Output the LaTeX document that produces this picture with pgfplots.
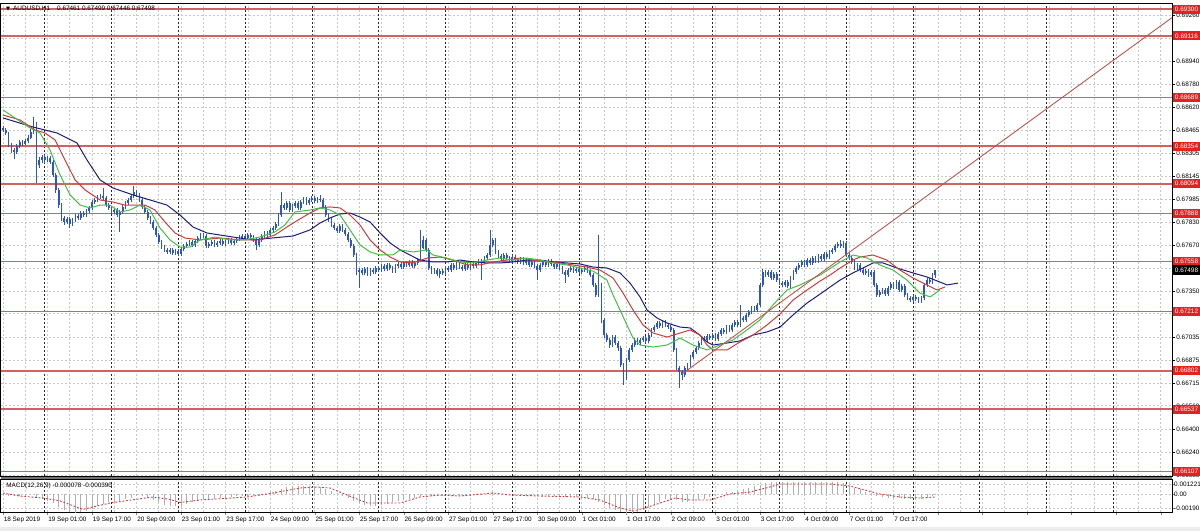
\documentclass[border=0pt]{standalone}
\usepackage{pgfplots}
\pgfplotsset{compat=1.18}
\usepackage{pgfplotstable}
\usepackage{fontspec}
\setmainfont{Liberation Sans}
\newfontfamily\dejavu{DejaVu Sans}
\definecolor{candle}{RGB}{45,85,200}
\definecolor{lvlred}{RGB}{208,98,98}
\definecolor{lblred}{RGB}{228,32,32}
\definecolor{magreen}{RGB}{70,190,70}
\definecolor{mared}{RGB}{205,60,60}
\definecolor{manavy}{RGB}{30,30,120}
\definecolor{trendred}{RGB}{185,85,75}
\definecolor{gridgray}{RGB}{200,200,200}
\definecolor{histgray}{RGB}{175,175,175}
\newcommand{\tf}{\fontsize{3.2}{3.8}\selectfont}

\pgfplotstableread{
i o h l c
0 0.68480 0.68495 0.68452 0.68466
1 0.68466 0.68478 0.68430 0.68445
2 0.68445 0.68455 0.68345 0.68362
3 0.68362 0.68375 0.68310 0.68327
4 0.68327 0.68340 0.68265 0.68313
5 0.68313 0.68368 0.68300 0.68355
6 0.68355 0.68398 0.68342 0.68383
7 0.68383 0.68395 0.68355 0.68369
8 0.68369 0.68405 0.68360 0.68390
9 0.68390 0.68428 0.68378 0.68410
10 0.68410 0.68470 0.68400 0.68452
11 0.68452 0.68556 0.68440 0.68507
12 0.68507 0.68520 0.68099 0.68224
13 0.68224 0.68280 0.68205 0.68258
14 0.68258 0.68295 0.68240 0.68279
15 0.68279 0.68292 0.68240 0.68258
16 0.68258 0.68288 0.68245 0.68272
17 0.68272 0.68285 0.68228 0.68244
18 0.68244 0.68255 0.68140 0.68155
19 0.68155 0.68168 0.68030 0.68051
20 0.68051 0.68062 0.67930 0.67947
21 0.67947 0.67960 0.67840 0.67858
22 0.67858 0.67872 0.67810 0.67830
23 0.67830 0.67865 0.67815 0.67851
24 0.67851 0.67862 0.67789 0.67816
25 0.67816 0.67858 0.67802 0.67844
26 0.67844 0.67885 0.67830 0.67871
27 0.67871 0.67884 0.67842 0.67858
28 0.67858 0.67906 0.67845 0.67892
29 0.67892 0.67905 0.67862 0.67878
30 0.67878 0.67920 0.67865 0.67906
31 0.67906 0.67940 0.67892 0.67927
32 0.67927 0.67982 0.67915 0.67968
33 0.67968 0.67996 0.67955 0.67982
34 0.67982 0.68018 0.67970 0.68003
35 0.68003 0.68025 0.67990 0.68010
36 0.68010 0.68065 0.67982 0.67996
37 0.67996 0.68008 0.67932 0.67947
38 0.67947 0.67960 0.67912 0.67927
39 0.67927 0.67940 0.67885 0.67899
40 0.67899 0.67928 0.67886 0.67913
41 0.67913 0.67925 0.67862 0.67878
42 0.67878 0.67912 0.67761 0.67899
43 0.67899 0.67948 0.67885 0.67934
44 0.67934 0.67975 0.67920 0.67961
45 0.67961 0.67996 0.67948 0.67982
46 0.67982 0.68025 0.67970 0.68010
47 0.68010 0.68079 0.67998 0.68037
48 0.68037 0.68050 0.68002 0.68017
49 0.68017 0.68030 0.67968 0.67982
50 0.67982 0.67995 0.67920 0.67934
51 0.67934 0.67946 0.67884 0.67899
52 0.67899 0.67910 0.67842 0.67858
53 0.67858 0.67870 0.67815 0.67830
54 0.67830 0.67842 0.67775 0.67789
55 0.67789 0.67800 0.67725 0.67740
56 0.67740 0.67752 0.67678 0.67692
57 0.67692 0.67705 0.67642 0.67658
58 0.67658 0.67670 0.67622 0.67637
59 0.67637 0.67650 0.67606 0.67623
60 0.67623 0.67652 0.67610 0.67637
61 0.67637 0.67648 0.67600 0.67616
62 0.67616 0.67645 0.67602 0.67630
63 0.67630 0.67642 0.67595 0.67609
64 0.67609 0.67658 0.67596 0.67644
65 0.67644 0.67680 0.67632 0.67665
66 0.67665 0.67692 0.67652 0.67678
67 0.67678 0.67706 0.67665 0.67692
68 0.67692 0.67705 0.67658 0.67671
69 0.67671 0.67712 0.67660 0.67699
70 0.67699 0.67735 0.67686 0.67720
71 0.67720 0.67755 0.67708 0.67740
72 0.67740 0.67752 0.67720 0.67734
73 0.67734 0.67745 0.67650 0.67665
74 0.67665 0.67692 0.67652 0.67678
75 0.67678 0.67706 0.67665 0.67692
76 0.67692 0.67704 0.67658 0.67671
77 0.67671 0.67698 0.67660 0.67685
78 0.67685 0.67712 0.67672 0.67699
79 0.67699 0.67710 0.67665 0.67678
80 0.67678 0.67705 0.67666 0.67692
81 0.67692 0.67720 0.67680 0.67706
82 0.67706 0.67718 0.67672 0.67685
83 0.67685 0.67712 0.67672 0.67699
84 0.67699 0.67727 0.67686 0.67713
85 0.67713 0.67740 0.67700 0.67727
86 0.67727 0.67748 0.67714 0.67734
87 0.67734 0.67746 0.67706 0.67720
88 0.67720 0.67755 0.67708 0.67740
89 0.67740 0.67752 0.67714 0.67727
90 0.67727 0.67738 0.67692 0.67706
91 0.67706 0.67718 0.67637 0.67671
92 0.67671 0.67720 0.67658 0.67706
93 0.67706 0.67748 0.67694 0.67734
94 0.67734 0.67768 0.67720 0.67754
95 0.67754 0.67766 0.67726 0.67740
96 0.67740 0.67790 0.67728 0.67775
97 0.67775 0.67803 0.67762 0.67789
98 0.67789 0.67830 0.67776 0.67816
99 0.67816 0.67892 0.67805 0.67878
100 0.67878 0.68037 0.67865 0.67947
101 0.67947 0.67962 0.67912 0.67927
102 0.67927 0.67975 0.67914 0.67961
103 0.67961 0.67972 0.67898 0.67913
104 0.67913 0.67955 0.67900 0.67941
105 0.67941 0.67975 0.67928 0.67961
106 0.67961 0.67972 0.67912 0.67927
107 0.67927 0.67982 0.67915 0.67968
108 0.67968 0.68003 0.67955 0.67989
109 0.67989 0.68000 0.67948 0.67961
110 0.67961 0.67996 0.67950 0.67982
111 0.67982 0.68010 0.67970 0.67996
112 0.67996 0.68008 0.67962 0.67975
113 0.67975 0.68003 0.67962 0.67989
114 0.67989 0.68017 0.67970 0.67982
115 0.67982 0.67993 0.67920 0.67934
116 0.67934 0.67945 0.67862 0.67878
117 0.67878 0.67890 0.67830 0.67844
118 0.67844 0.67856 0.67795 0.67809
119 0.67809 0.67822 0.67774 0.67789
120 0.67789 0.67800 0.67754 0.67768
121 0.67768 0.67816 0.67756 0.67802
122 0.67802 0.67814 0.67762 0.67775
123 0.67775 0.67788 0.67732 0.67747
124 0.67747 0.67758 0.67692 0.67706
125 0.67706 0.67718 0.67650 0.67665
126 0.67665 0.67676 0.67586 0.67602
127 0.67602 0.67615 0.67466 0.67484
128 0.67484 0.67512 0.67374 0.67498
129 0.67498 0.67512 0.67462 0.67478
130 0.67478 0.67520 0.67465 0.67505
131 0.67505 0.67518 0.67455 0.67471
132 0.67471 0.67512 0.67458 0.67498
133 0.67498 0.67510 0.67470 0.67484
134 0.67484 0.67526 0.67472 0.67512
135 0.67512 0.67525 0.67484 0.67498
136 0.67498 0.67540 0.67486 0.67526
137 0.67526 0.67538 0.67490 0.67505
138 0.67505 0.67548 0.67492 0.67533
139 0.67533 0.67545 0.67498 0.67512
140 0.67512 0.67525 0.67476 0.67491
141 0.67491 0.67540 0.67478 0.67526
142 0.67526 0.67553 0.67512 0.67539
143 0.67539 0.67552 0.67505 0.67519
144 0.67519 0.67560 0.67506 0.67546
145 0.67546 0.67558 0.67520 0.67533
146 0.67533 0.67568 0.67520 0.67554
147 0.67554 0.67566 0.67512 0.67526
148 0.67526 0.67560 0.67514 0.67546
149 0.67546 0.67582 0.67534 0.67567
150 0.67567 0.67775 0.67555 0.67651
151 0.67651 0.67730 0.67640 0.67706
152 0.67706 0.67718 0.67622 0.67637
153 0.67637 0.67650 0.67498 0.67512
154 0.67512 0.67525 0.67470 0.67484
155 0.67484 0.67512 0.67470 0.67498
156 0.67498 0.67510 0.67456 0.67471
157 0.67471 0.67505 0.67443 0.67491
158 0.67491 0.67504 0.67464 0.67478
159 0.67478 0.67526 0.67466 0.67512
160 0.67512 0.67525 0.67484 0.67498
161 0.67498 0.67548 0.67486 0.67533
162 0.67533 0.67545 0.67498 0.67512
163 0.67512 0.67553 0.67500 0.67539
164 0.67539 0.67552 0.67505 0.67519
165 0.67519 0.67532 0.67490 0.67505
166 0.67505 0.67548 0.67492 0.67533
167 0.67533 0.67545 0.67498 0.67512
168 0.67512 0.67553 0.67500 0.67539
169 0.67539 0.67552 0.67512 0.67526
170 0.67526 0.67560 0.67514 0.67546
171 0.67546 0.67574 0.67534 0.67560
172 0.67560 0.67575 0.67429 0.67554
173 0.67554 0.67595 0.67540 0.67581
174 0.67581 0.67616 0.67568 0.67602
175 0.67602 0.67775 0.67590 0.67671
176 0.67671 0.67722 0.67658 0.67706
177 0.67706 0.67718 0.67608 0.67623
178 0.67623 0.67636 0.67580 0.67595
179 0.67595 0.67608 0.67560 0.67574
180 0.67574 0.67616 0.67562 0.67602
181 0.67602 0.67614 0.67568 0.67581
182 0.67581 0.67594 0.67546 0.67560
183 0.67560 0.67602 0.67548 0.67588
184 0.67588 0.67600 0.67552 0.67567
185 0.67567 0.67580 0.67540 0.67554
186 0.67554 0.67588 0.67542 0.67574
187 0.67574 0.67586 0.67532 0.67546
188 0.67546 0.67580 0.67534 0.67567
189 0.67567 0.67578 0.67518 0.67533
190 0.67533 0.67568 0.67520 0.67554
191 0.67554 0.67566 0.67512 0.67526
192 0.67526 0.67538 0.67429 0.67498
193 0.67498 0.67548 0.67486 0.67533
194 0.67533 0.67568 0.67520 0.67554
195 0.67554 0.67566 0.67520 0.67533
196 0.67533 0.67574 0.67520 0.67560
197 0.67560 0.67572 0.67526 0.67539
198 0.67539 0.67552 0.67505 0.67519
199 0.67519 0.67560 0.67506 0.67546
200 0.67546 0.67558 0.67498 0.67512
201 0.67512 0.67525 0.67470 0.67484
202 0.67484 0.67496 0.67408 0.67464
203 0.67464 0.67512 0.67452 0.67498
204 0.67498 0.67526 0.67485 0.67512
205 0.67512 0.67525 0.67478 0.67491
206 0.67491 0.67518 0.67478 0.67505
207 0.67505 0.67516 0.67470 0.67484
208 0.67484 0.67512 0.67472 0.67498
209 0.67498 0.67526 0.67485 0.67512
210 0.67512 0.67525 0.67478 0.67491
211 0.67491 0.67502 0.67450 0.67464
212 0.67464 0.67475 0.67380 0.67395
213 0.67395 0.67408 0.67310 0.67326
214 0.67326 0.67740 0.67312 0.67395
215 0.67395 0.67408 0.67135 0.67153
216 0.67153 0.67165 0.67030 0.67049
217 0.67049 0.67062 0.66998 0.67015
218 0.67015 0.67028 0.66962 0.66980
219 0.66980 0.67050 0.66968 0.67036
220 0.67036 0.67048 0.66980 0.66994
221 0.66994 0.67006 0.66942 0.66959
222 0.66959 0.66970 0.66825 0.66842
223 0.66842 0.66855 0.66704 0.66752
224 0.66752 0.66890 0.66740 0.66876
225 0.66876 0.66960 0.66862 0.66946
226 0.66946 0.66995 0.66932 0.66980
227 0.66980 0.67028 0.66968 0.67015
228 0.67015 0.67028 0.66980 0.66994
229 0.66994 0.67028 0.66982 0.67015
230 0.67015 0.67042 0.67002 0.67028
231 0.67028 0.67040 0.66994 0.67008
232 0.67008 0.67062 0.66995 0.67049
233 0.67049 0.67098 0.67036 0.67084
234 0.67084 0.67118 0.67070 0.67104
235 0.67104 0.67146 0.67092 0.67132
236 0.67132 0.67145 0.67098 0.67111
237 0.67111 0.67153 0.67098 0.67139
238 0.67139 0.67152 0.67104 0.67118
239 0.67118 0.67130 0.67090 0.67104
240 0.67104 0.67116 0.67070 0.67084
241 0.67084 0.67096 0.66930 0.66946
242 0.66946 0.66958 0.66805 0.66821
243 0.66821 0.66835 0.66683 0.66793
244 0.66793 0.66806 0.66740 0.66773
245 0.66773 0.66835 0.66760 0.66821
246 0.66821 0.66856 0.66808 0.66842
247 0.66842 0.66911 0.66830 0.66897
248 0.66897 0.66946 0.66884 0.66932
249 0.66932 0.66973 0.66920 0.66959
250 0.66959 0.67008 0.66946 0.66994
251 0.66994 0.67042 0.66980 0.67028
252 0.67028 0.67040 0.67002 0.67015
253 0.67015 0.67056 0.67002 0.67042
254 0.67042 0.67055 0.67015 0.67028
255 0.67028 0.67062 0.67015 0.67049
256 0.67049 0.67062 0.67008 0.67022
257 0.67022 0.67070 0.67010 0.67056
258 0.67056 0.67098 0.67042 0.67084
259 0.67084 0.67096 0.67056 0.67070
260 0.67070 0.67118 0.67058 0.67104
261 0.67104 0.67116 0.67070 0.67084
262 0.67084 0.67132 0.67070 0.67118
263 0.67118 0.67153 0.67105 0.67139
264 0.67139 0.67152 0.67104 0.67118
265 0.67118 0.67257 0.67105 0.67167
266 0.67167 0.67180 0.67138 0.67153
267 0.67153 0.67202 0.67140 0.67188
268 0.67188 0.67222 0.67175 0.67208
269 0.67208 0.67250 0.67195 0.67236
270 0.67236 0.67248 0.67208 0.67222
271 0.67222 0.67271 0.67210 0.67257
272 0.67257 0.67410 0.67245 0.67395
273 0.67395 0.67505 0.67382 0.67484
274 0.67484 0.67498 0.67450 0.67464
275 0.67464 0.67498 0.67450 0.67484
276 0.67484 0.67496 0.67428 0.67443
277 0.67443 0.67485 0.67430 0.67471
278 0.67471 0.67483 0.67414 0.67429
279 0.67429 0.67442 0.67394 0.67408
280 0.67408 0.67420 0.67380 0.67395
281 0.67395 0.67430 0.67382 0.67415
282 0.67415 0.67428 0.67374 0.67388
283 0.67388 0.67456 0.67376 0.67443
284 0.67443 0.67498 0.67430 0.67484
285 0.67484 0.67526 0.67470 0.67512
286 0.67512 0.67548 0.67500 0.67533
287 0.67533 0.67568 0.67520 0.67554
288 0.67554 0.67566 0.67520 0.67533
289 0.67533 0.67582 0.67520 0.67567
290 0.67567 0.67580 0.67532 0.67546
291 0.67546 0.67595 0.67534 0.67581
292 0.67581 0.67594 0.67546 0.67560
293 0.67560 0.67610 0.67548 0.67595
294 0.67595 0.67608 0.67560 0.67574
295 0.67574 0.67624 0.67562 0.67609
296 0.67609 0.67622 0.67574 0.67588
297 0.67588 0.67638 0.67576 0.67623
298 0.67623 0.67652 0.67610 0.67637
299 0.67637 0.67680 0.67624 0.67665
300 0.67665 0.67694 0.67652 0.67678
301 0.67678 0.67706 0.67650 0.67665
302 0.67665 0.67700 0.67652 0.67685
303 0.67685 0.67698 0.67588 0.67602
304 0.67602 0.67615 0.67566 0.67581
305 0.67581 0.67594 0.67540 0.67554
306 0.67554 0.67566 0.67498 0.67512
307 0.67512 0.67548 0.67500 0.67533
308 0.67533 0.67545 0.67484 0.67498
309 0.67498 0.67510 0.67464 0.67478
310 0.67478 0.67505 0.67465 0.67491
311 0.67491 0.67504 0.67450 0.67464
312 0.67464 0.67498 0.67452 0.67484
313 0.67484 0.67496 0.67380 0.67395
314 0.67395 0.67408 0.67312 0.67326
315 0.67326 0.67360 0.67312 0.67346
316 0.67346 0.67374 0.67333 0.67360
317 0.67360 0.67372 0.67318 0.67333
318 0.67333 0.67388 0.67320 0.67374
319 0.67374 0.67416 0.67360 0.67402
320 0.67402 0.67415 0.67368 0.67381
321 0.67381 0.67430 0.67368 0.67415
322 0.67415 0.67428 0.67346 0.67360
323 0.67360 0.67402 0.67346 0.67388
324 0.67388 0.67400 0.67312 0.67326
325 0.67326 0.67340 0.67292 0.67305
326 0.67305 0.67318 0.67278 0.67291
327 0.67291 0.67326 0.67278 0.67312
328 0.67312 0.67325 0.67284 0.67298
329 0.67298 0.67310 0.67270 0.67284
330 0.67284 0.67318 0.67272 0.67305
331 0.67305 0.67410 0.67292 0.67395
332 0.67395 0.67443 0.67382 0.67429
333 0.67429 0.67442 0.67400 0.67415
334 0.67415 0.67476 0.67402 0.67461
335 0.67461 0.67499 0.67446 0.67498
}\candles

\pgfplotstableread{
i v
0 0.68549
10.8 0.68486
19.4 0.68445
26.6 0.68376
30.2 0.68258
34.9 0.68120
39.5 0.68065
46.7 0.68017
55.3 0.67968
58.9 0.67947
63.6 0.67878
68.3 0.67795
73.3 0.67754
82.6 0.67726
89.8 0.67706
97.0 0.67720
104.2 0.67733
110.3 0.67775
113.9 0.67823
117.5 0.67858
121.1 0.67885
124.7 0.67892
128.3 0.67864
131.9 0.67830
135.5 0.67754
139.1 0.67685
142.7 0.67637
146.2 0.67602
149.8 0.67567
154.5 0.67554
159.5 0.67554
164.2 0.67567
168.9 0.67554
173.9 0.67547
178.6 0.67547
183.3 0.67554
188.3 0.67567
193.0 0.67567
197.6 0.67554
202.7 0.67547
207.3 0.67540
212.0 0.67519
217.0 0.67512
221.7 0.67478
225.3 0.67408
228.9 0.67312
231.4 0.67222
235.0 0.67167
238.6 0.67132
243.3 0.67104
246.9 0.67098
250.4 0.67049
253.0 0.67001
255.1 0.66980
260.2 0.66994
264.8 0.67008
269.5 0.67049
274.5 0.67070
279.2 0.67104
283.9 0.67188
288.9 0.67270
293.6 0.67332
297.2 0.67381
300.8 0.67429
305.4 0.67478
309.0 0.67512
312.6 0.67547
316.2 0.67547
321.2 0.67512
327.0 0.67478
332.0 0.67450
336.7 0.67415
339.2 0.67395
343.2 0.67408
}\navyma

\pgfplotstableread{
i v
0 0.68569
6.1 0.68535
11.5 0.68466
15.1 0.68445
18.7 0.68397
22.3 0.68258
25.9 0.68120
29.5 0.68051
34.9 0.67982
39.5 0.67968
43.8 0.67947
51.0 0.67947
54.6 0.67913
58.2 0.67830
61.8 0.67754
65.4 0.67719
70.8 0.67706
78.0 0.67719
85.2 0.67706
92.3 0.67706
97.7 0.67740
103.1 0.67809
106.7 0.67851
110.3 0.67892
113.9 0.67927
117.5 0.67934
121.1 0.67927
124.7 0.67878
128.3 0.67809
131.9 0.67706
135.5 0.67637
139.1 0.67588
142.7 0.67554
147.3 0.67547
152.4 0.67581
157.0 0.67588
161.7 0.67567
166.7 0.67533
171.4 0.67533
176.1 0.67554
181.1 0.67567
185.8 0.67581
190.4 0.67567
195.5 0.67554
200.1 0.67547
204.8 0.67533
209.8 0.67519
214.5 0.67498
219.2 0.67443
222.8 0.67339
226.4 0.67222
230.0 0.67118
233.6 0.67063
238.6 0.67035
243.3 0.67063
246.9 0.67084
250.4 0.67049
253.0 0.66980
255.1 0.66946
260.2 0.66946
264.8 0.67001
269.5 0.67049
274.5 0.67118
279.2 0.67194
283.9 0.67291
288.9 0.67360
293.6 0.67422
297.2 0.67464
300.8 0.67512
305.4 0.67567
308.0 0.67588
312.6 0.67602
317.6 0.67567
322.3 0.67498
327.0 0.67443
332.0 0.67395
335.6 0.67360
338.5 0.67381
}\redma

\pgfplotstableread{
i v
0 0.68604
4.3 0.68549
9.7 0.68480
13.3 0.68445
16.9 0.68327
20.5 0.68155
24.1 0.68017
27.7 0.67947
31.3 0.67927
34.9 0.67947
38.4 0.67947
42.0 0.67899
45.6 0.67913
49.2 0.67947
52.8 0.67913
56.4 0.67789
60.0 0.67706
63.6 0.67657
67.2 0.67657
70.8 0.67706
76.2 0.67726
81.6 0.67706
87.0 0.67706
92.3 0.67726
97.7 0.67761
101.3 0.67809
104.9 0.67899
110.3 0.67913
113.9 0.67927
117.5 0.67913
121.1 0.67878
124.7 0.67775
128.3 0.67671
131.9 0.67623
135.5 0.67602
140.1 0.67602
142.7 0.67637
147.3 0.67623
152.4 0.67637
154.5 0.67602
159.5 0.67581
164.2 0.67554
168.9 0.67547
173.9 0.67567
178.6 0.67581
183.3 0.67567
188.3 0.67581
193.0 0.67567
197.6 0.67547
202.7 0.67533
207.3 0.67512
212.0 0.67491
217.0 0.67429
219.2 0.67326
221.7 0.67222
224.2 0.67118
226.4 0.67028
228.9 0.66980
233.6 0.66966
238.6 0.66980
243.3 0.67028
247.9 0.66980
253.0 0.66946
257.6 0.66980
262.3 0.67015
267.3 0.67084
272.0 0.67153
276.7 0.67257
281.7 0.67360
286.4 0.67395
293.6 0.67464
300.8 0.67554
305.4 0.67602
310.5 0.67581
315.1 0.67533
319.8 0.67498
324.8 0.67429
329.5 0.67339
333.1 0.67312
336.7 0.67360
}\greenma

\pgfplotstableread{
i m
0 -0.0001
2 -0.0002
4 -0.0003
6 -0.0003
8 -0.0002
10 -0.0001
12 -0.0004
14 -0.0007
16 -0.0009
18 -0.0012
20 -0.0017
22 -0.0021
24 -0.0024
26 -0.0025
28 -0.0024
30 -0.0022
32 -0.0019
34 -0.0016
36 -0.0013
38 -0.0011
40 -0.0010
42 -0.0009
44 -0.0007
46 -0.0005
48 -0.0003
50 -0.0003
52 -0.0005
54 -0.0008
56 -0.0011
58 -0.0014
60 -0.0016
62 -0.0016
64 -0.0015
66 -0.0013
68 -0.0011
70 -0.0009
72 -0.0007
74 -0.0007
76 -0.0006
78 -0.0005
80 -0.0005
82 -0.0004
84 -0.0003
86 -0.0003
88 -0.0002
90 -0.0002
92 -0.0001
94 0.0000
96 0.0002
98 0.0004
100 0.0007
102 0.0009
104 0.0010
106 0.0011
108 0.0011
110 0.0011
112 0.0010
114 0.0009
116 0.0007
118 0.0004
120 0.0001
122 -0.0002
124 -0.0005
126 -0.0009
128 -0.0012
130 -0.0014
132 -0.0015
134 -0.0015
136 -0.0014
138 -0.0013
140 -0.0011
142 -0.0009
144 -0.0008
146 -0.0006
148 -0.0005
150 -0.0002
152 -0.0001
154 -0.0002
156 -0.0003
158 -0.0003
160 -0.0003
162 -0.0003
164 -0.0003
166 -0.0002
168 -0.0002
170 -0.0001
172 0.0000
174 0.0001
176 0.0002
178 0.0001
180 0.0000
182 -0.0001
184 -0.0001
186 -0.0002
188 -0.0002
190 -0.0003
192 -0.0003
194 -0.0003
196 -0.0003
198 -0.0003
200 -0.0004
202 -0.0004
204 -0.0004
206 -0.0004
208 -0.0004
210 -0.0005
212 -0.0007
214 -0.0010
216 -0.0014
218 -0.0018
220 -0.0021
222 -0.0024
224 -0.0026
226 -0.0026
228 -0.0024
230 -0.0021
232 -0.0018
234 -0.0014
236 -0.0010
238 -0.0007
240 -0.0006
242 -0.0008
244 -0.0010
246 -0.0010
248 -0.0009
250 -0.0008
252 -0.0006
254 -0.0004
256 -0.0002
258 0.0000
260 0.0002
262 0.0003
264 0.0005
266 0.0006
268 0.0008
270 0.0010
272 0.0012
274 0.0014
276 0.0015
278 0.0016
280 0.0016
282 0.0016
284 0.0016
286 0.0016
288 0.0016
290 0.0016
292 0.0016
294 0.0016
296 0.0016
298 0.0016
300 0.0015
302 0.0014
304 0.0011
306 0.0008
308 0.0006
310 0.0003
312 0.0001
314 -0.0002
316 -0.0004
318 -0.0005
320 -0.0005
322 -0.0005
324 -0.0006
326 -0.0007
328 -0.0007
330 -0.0006
332 -0.0004
334 -0.0002
335 -0.000078
}\macdhist

\pgfplotstableread{
i s
0 0.00013
6 -0.00026
14.4 -0.00052
20.5 -0.00090
28.7 -0.00200
38.4 -0.00117
53.9 -0.00039
60 -0.00070
63.6 -0.00110
70.8 -0.00078
87.7 -0.00039
97.0 0.00013
106.7 0.00078
112.8 0.00091
117.5 0.00078
123.6 -0.00013
130.8 -0.00117
142.7 -0.00117
149.8 -0.00039
157.0 -0.00013
164.2 -0.00026
176.1 0.00013
182.2 -0.00013
193.0 -0.00026
207.3 -0.00039
214.5 -0.00078
221.7 -0.00182
226.4 -0.00221
230.7 -0.00182
236.1 -0.00117
241.5 -0.00052
246.9 -0.00078
254.0 -0.00078
261.2 0.0
268.4 0.00026
275.6 0.00091
279.2 0.00130
286.4 0.00130
297.2 0.00130
304.3 0.00104
309.7 0.00052
315.1 0.0
322.3 -0.00039
329.5 -0.00052
334.9 -0.00039
}\macdsig

\begin{document}
\begin{tikzpicture}
\useasboundingbox (0,0) rectangle (600pt,-265.5pt);
\fill[white] (0,0) rectangle (600pt,-265.5pt);
\fill[black!7] (0,-263.5pt) rectangle (600pt,-265.5pt);
\fill[black!55] (0.5pt,-238.2pt) rectangle (586pt,-239.6pt);

\begin{axis}[
  at={(0.5pt,-1.5pt)}, anchor=north west, scale only axis,
  width=585.5pt, height=236.5pt,
  xmin=-0.72, xmax=420.05, ymin=0.66075, ymax=0.69343,
  axis line style={black, line width=0.5pt},
  xtick={0,8,...,416}, xticklabels={}, major x tick style={draw=none},
  extra x ticks={15,39,...,399}, extra x tick labels={},
  extra x tick style={major tick length=0pt, grid=major,
     major grid style={black!85, line width=0.4pt, dash pattern=on 0.9pt off 1.1pt}},
  ytick={0.66080,0.66240,0.66400,0.66560,0.66715,0.66875,0.67035,0.67195,0.67350,0.67510,0.67670,0.67830,0.67985,0.68145,0.68305,0.68465,0.68620,0.68780,0.68940,0.69100,0.69260},
  yticklabels={0.66080,0.66240,0.66400,0.66560,0.66715,0.66875,0.67035,0.67195,0.67350,0.67510,0.67670,0.67830,0.67985,0.68145,0.68305,0.68465,0.68620,0.68780,0.68940,0.69100,0.69260},
  ytick pos=right, yticklabel pos=right, tick align=outside,
  major tick length=1.5pt, ytick style={black, line width=0.4pt},
  yticklabel style={font=\tf, anchor=west, inner sep=0pt, xshift=0.5pt},
  grid=major, major grid style={gridgray, line width=0.4pt, dash pattern=on 0.9pt off 1.1pt},
  clip=false, scaled y ticks=false,
]
\pgfplotsinvokeforeach{0.69300,0.69116,0.68689,0.68354,0.68094,0.67888,0.67558,0.67212,0.66802,0.66537,0.66107}{
  \draw[lvlred, line width=0.8pt] (axis cs:-0.72,#1) -- (axis cs:420.05,#1);
}
\addplot[draw=none, mark=none, forget plot, error bars/.cd, y dir=plus, y explicit,
  error mark=none, error bar style={draw=candle, line width=0.45pt}]
  table[x=i, y=l, y error plus expr={\thisrow{h}-\thisrow{l}}] {\candles};
\addplot[draw=none, mark=none, forget plot, error bars/.cd, y dir=both, y explicit,
  error mark=none, error bar style={draw=candle, line width=0.85pt}]
  table[x=i, y expr={(\thisrow{o}+\thisrow{c})/2}, y error expr={abs(\thisrow{c}-\thisrow{o})/2}] {\candles};
\addplot[manavy, line width=0.5pt, mark=none, line join=round] table[x=i, y=v] {\navyma};
\addplot[mared, line width=0.5pt, mark=none, line join=round] table[x=i, y=v] {\redma};
\addplot[magreen, line width=0.5pt, mark=none, line join=round] table[x=i, y=v] {\greenma};
\addplot[trendred, line width=0.45pt, mark=none] coordinates {(244,0.66780) (420.05,0.69242)};
\coordinate (Ra) at (axis cs:420.05,0.69300);
\coordinate (Rb) at (axis cs:420.05,0.69116);
\coordinate (Rc) at (axis cs:420.05,0.68689);
\coordinate (Rd) at (axis cs:420.05,0.68354);
\coordinate (Re) at (axis cs:420.05,0.68094);
\coordinate (Rf) at (axis cs:420.05,0.67888);
\coordinate (Rg) at (axis cs:420.05,0.67558);
\coordinate (Rh) at (axis cs:420.05,0.67212);
\coordinate (Ri) at (axis cs:420.05,0.66802);
\coordinate (Rj) at (axis cs:420.05,0.66537);
\coordinate (Rk) at (axis cs:420.05,0.66107);
\coordinate (Rbid) at (axis cs:420.05,0.67498);
\end{axis}

\foreach \n/\v in {Ra/0.69300,Rb/0.69116,Rc/0.68689,Rd/0.68354,Re/0.68094,Rf/0.67888,Rg/0.67558,Rh/0.67212,Ri/0.66802,Rj/0.66537,Rk/0.66107}{
  \node[anchor=west, fill=lblred, text=white, font=\tf, inner sep=0pt,
        minimum width=13.5pt, minimum height=4.6pt] at ([xshift=0.3pt]\n) {\v};
}
\node[anchor=west, fill=black, text=white, font=\tf, inner sep=0pt,
      minimum width=13.5pt, minimum height=4.6pt] at ([xshift=0.3pt]Rbid) {0.67498};

\node[anchor=west, inner sep=0pt, font=\tf] at (2.8pt,-4.2pt)
  {{\dejavu\fontsize{2.6}{3}\selectfont ▼}\hspace{1.6pt}AUDUSD,H1\hspace{3.5pt}0.67461 0.67499 0.67446 0.67498};

\begin{axis}[
  at={(0.5pt,-239.5pt)}, anchor=north west, scale only axis,
  width=585.5pt, height=16.5pt,
  xmin=-0.72, xmax=420.05, ymin=-0.00234, ymax=0.00195,
  axis line style={black, line width=0.5pt},
  xtick={0,16,...,416},
  xticklabels={18 Sep 2019,19 Sep 01:00,19 Sep 17:00,20 Sep 09:00,23 Sep 01:00,23 Sep 17:00,24 Sep 09:00,25 Sep 01:00,25 Sep 17:00,26 Sep 09:00,27 Sep 01:00,27 Sep 17:00,30 Sep 09:00,1 Oct 01:00,1 Oct 17:00,2 Oct 09:00,3 Oct 01:00,3 Oct 17:00,4 Oct 09:00,7 Oct 01:00,7 Oct 17:00,{},{},{},{},{},{}},
  minor xtick={8,24,...,408},
  xtick pos=bottom, ytick pos=right, yticklabel pos=right, tick align=outside,
  major tick length=1.5pt, minor tick length=0pt,
  xticklabel style={font=\tf, anchor=north west, inner sep=0pt, xshift=0.2pt, yshift=-0.9pt},
  ytick={-0.0019,0,0.001221}, yticklabels={-0.00190,0.00,0.001221},
  yticklabel style={font=\tf, anchor=west, inner sep=0pt, xshift=-0.6pt},
  scaled y ticks=false,
  extra x ticks={15,39,...,399}, extra x tick labels={},
  extra x tick style={major tick length=0pt, grid=major,
     major grid style={black!85, line width=0.4pt, dash pattern=on 0.9pt off 1.1pt}},
  grid=both, major grid style={gridgray, line width=0.4pt, dash pattern=on 0.9pt off 1.1pt},
  minor grid style={gridgray, line width=0.4pt, dash pattern=on 0.9pt off 1.1pt},
  clip=false,
]
\addplot[ycomb, histgray, line width=0.45pt, mark=none] table[x=i, y=m] {\macdhist};
\addplot[mared, line width=0.45pt, dash pattern=on 0.9pt off 0.9pt, mark=none] table[x=i, y=s] {\macdsig};
\end{axis}
\node[anchor=west, inner sep=0pt, font=\tf] at (3pt,-242.8pt) {MACD(12,26,9) -0.000078 -0.000390};
\end{tikzpicture}
\end{document}
